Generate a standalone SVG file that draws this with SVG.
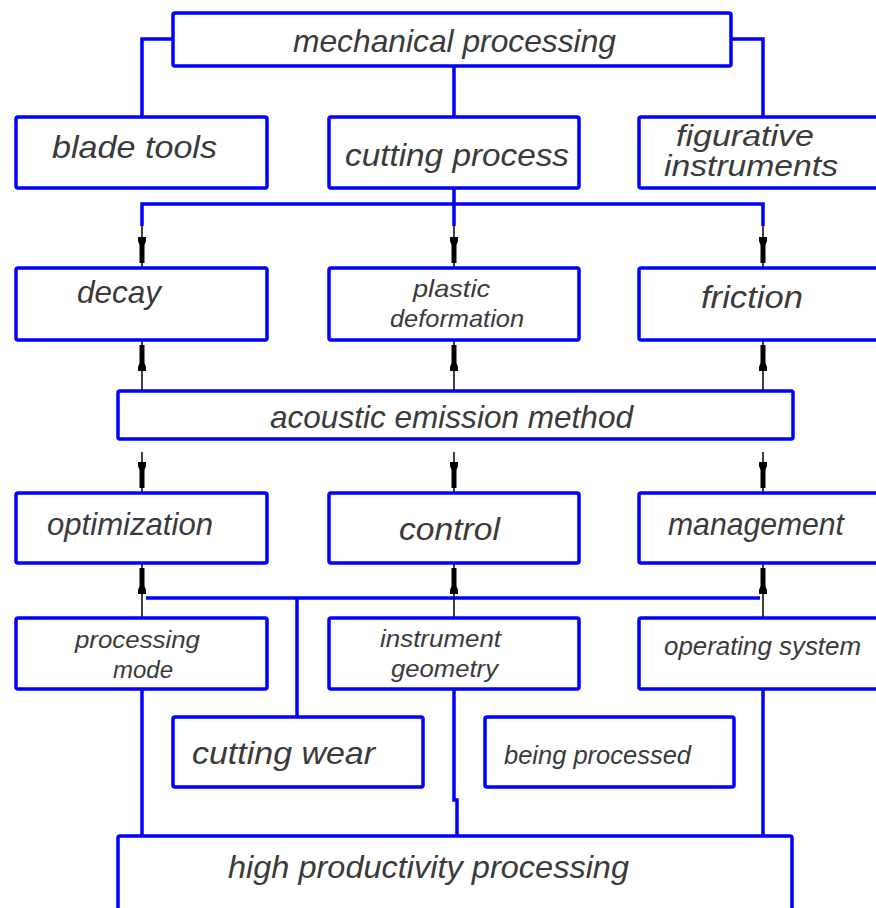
<svg xmlns="http://www.w3.org/2000/svg" xmlns:xlink="http://www.w3.org/1999/xlink" width="876" height="908" viewBox="0 0 876 908">
<style>
.box{fill:#ffffff;stroke:#0000ff;stroke-width:3.5}
.bl{fill:none;stroke:#0000ff;stroke-width:3.5}
.th{fill:none;stroke:#000000;stroke-width:1.5}
.ah{fill:#000000}
text{font-family:"Liberation Sans","DejaVu Sans",sans-serif;font-style:italic;fill:#3a3a3a}
.t32{font-size:32px}
.t30{font-size:30px}
.t26{font-size:26px}
.t24{font-size:24px}
.t23{font-size:23px}
</style>
<defs>
<path id="ah" d="M-4,-31 L4,-31 L4,-27 L2.5,-23 L2.5,-5 L-2.5,-5 L-2.5,-23 L-4,-27 Z"/>
</defs>
<rect width="876" height="908" fill="#ffffff"/>

<g id="connectors">
<path class="bl" d="M173,39 H142 V117"/>
<path class="bl" d="M731,39 H763 V117"/>
<path class="bl" d="M454,66 V117"/>
<path class="bl" d="M454,188 V226"/>
<path class="bl" d="M142,226 V204 H763 V226"/>
<path class="bl" d="M146,598 H760"/>
<path class="bl" d="M297,598 V717"/>
<path class="bl" d="M142,689 V836"/>
<path class="bl" d="M454,689 V800 H457 V836"/>
<path class="bl" d="M763,689 V836"/>
<path class="th" d="M142,226 V268 M454,226 V268 M763,226 V268"/>
<path class="th" d="M142,391 V340 M454,391 V340 M763,391 V340"/>
<path class="th" d="M142,452 V493 M454,452 V493 M763,452 V493"/>
<path class="th" d="M142,618 V563 M454,618 V563 M763,618 V563"/>
<g class="ah">
<use xlink:href="#ah" transform="translate(142,268)"/>
<use xlink:href="#ah" transform="translate(454,268)"/>
<use xlink:href="#ah" transform="translate(763,268)"/>
<use xlink:href="#ah" transform="translate(142,340) rotate(180)"/>
<use xlink:href="#ah" transform="translate(454,340) rotate(180)"/>
<use xlink:href="#ah" transform="translate(763,340) rotate(180)"/>
<use xlink:href="#ah" transform="translate(142,493)"/>
<use xlink:href="#ah" transform="translate(454,493)"/>
<use xlink:href="#ah" transform="translate(763,493)"/>
<use xlink:href="#ah" transform="translate(142,563) rotate(180)"/>
<use xlink:href="#ah" transform="translate(454,563) rotate(180)"/>
<use xlink:href="#ah" transform="translate(763,563) rotate(180)"/>
</g>
</g>

<g id="mechanical-processing">
<rect class="box" x="173" y="13" width="558" height="53" rx="2"/>
<text class="t32" x="293" y="52" textLength="323" lengthAdjust="spacingAndGlyphs">mechanical processing</text>
</g>
<g id="blade-tools">
<rect class="box" x="16" y="117" width="251" height="71" rx="2"/>
<text class="t32" x="52" y="158" textLength="165" lengthAdjust="spacingAndGlyphs">blade tools</text>
</g>
<g id="cutting-process">
<rect class="box" x="329" y="117" width="250" height="71" rx="2"/>
<text class="t32" x="345" y="166" textLength="224" lengthAdjust="spacingAndGlyphs">cutting process</text>
</g>
<g id="figurative-instruments">
<rect class="box" x="639" y="117" width="250" height="71" rx="2"/>
<text class="t30" x="676" y="146" textLength="138" lengthAdjust="spacingAndGlyphs">figurative</text>
<text class="t30" x="664" y="176" textLength="174" lengthAdjust="spacingAndGlyphs">instruments</text>
</g>

<g id="decay">
<rect class="box" x="16" y="268" width="251" height="72" rx="2"/>
<text class="t32" x="77" y="303" textLength="84" lengthAdjust="spacingAndGlyphs">decay</text>
</g>
<g id="plastic-deformation">
<rect class="box" x="329" y="268" width="250" height="72" rx="2"/>
<text class="t24" x="413" y="297" textLength="77" lengthAdjust="spacingAndGlyphs">plastic</text>
<text class="t24" x="390" y="327" textLength="134" lengthAdjust="spacingAndGlyphs">deformation</text>
</g>
<g id="friction">
<rect class="box" x="639" y="268" width="250" height="72" rx="2"/>
<text class="t32" x="701" y="308" textLength="102" lengthAdjust="spacingAndGlyphs">friction</text>
</g>

<g id="acoustic-emission-method">
<rect class="box" x="118" y="391" width="675" height="48" rx="2"/>
<text class="t32" x="270" y="428" textLength="363" lengthAdjust="spacingAndGlyphs">acoustic emission method</text>
</g>

<g id="optimization">
<rect class="box" x="16" y="493" width="251" height="70" rx="2"/>
<text class="t32" x="47" y="535" textLength="166" lengthAdjust="spacingAndGlyphs">optimization</text>
</g>
<g id="control">
<rect class="box" x="329" y="493" width="250" height="70" rx="2"/>
<text class="t32" x="399" y="540" textLength="101" lengthAdjust="spacingAndGlyphs">control</text>
</g>
<g id="management">
<rect class="box" x="639" y="493" width="250" height="70" rx="2"/>
<text class="t32" x="668" y="535" textLength="176" lengthAdjust="spacingAndGlyphs">management</text>
</g>

<g id="processing-mode">
<rect class="box" x="16" y="618" width="251" height="71" rx="2"/>
<text class="t23" x="75" y="648" textLength="125" lengthAdjust="spacingAndGlyphs">processing</text>
<text class="t23" x="113" y="678" textLength="60" lengthAdjust="spacingAndGlyphs">mode</text>
</g>
<g id="instrument-geometry">
<rect class="box" x="329" y="618" width="250" height="71" rx="2"/>
<text class="t24" x="380" y="647" textLength="121" lengthAdjust="spacingAndGlyphs">instrument</text>
<text class="t24" x="391" y="677" textLength="107" lengthAdjust="spacingAndGlyphs">geometry</text>
</g>
<g id="operating-system">
<rect class="box" x="639" y="618" width="250" height="71" rx="2"/>
<text class="t26" x="664" y="655" textLength="197" lengthAdjust="spacingAndGlyphs">operating system</text>
</g>

<g id="cutting-wear">
<rect class="box" x="173" y="717" width="250" height="70" rx="2"/>
<text class="t32" x="192" y="764" textLength="183" lengthAdjust="spacingAndGlyphs">cutting wear</text>
</g>
<g id="being-processed">
<rect class="box" x="485" y="717" width="249" height="70" rx="2"/>
<text class="t26" x="504" y="764" textLength="187" lengthAdjust="spacingAndGlyphs">being processed</text>
</g>

<g id="high-productivity-processing">
<rect class="box" x="118" y="836" width="674" height="90" rx="2"/>
<text class="t32" x="228" y="878" textLength="401" lengthAdjust="spacingAndGlyphs">high productivity processing</text>
</g>
</svg>
